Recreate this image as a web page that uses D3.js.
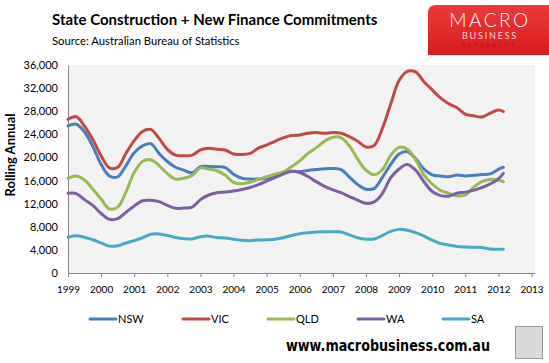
<!DOCTYPE html>
<html>
<head>
<meta charset="utf-8">
<script src="https://cdn.jsdelivr.net/npm/d3@7"></script>
<style>
  body { margin: 0; background: #fff; }
  svg { display: block; font-family: Lato, "Open Sans", sans-serif; }
</style>
</head>
<body>
<div id="chart"></div>
<script>
// quarterly points, decimal years (last point is early 2012)
var dates = [1999.0, 1999.25, 1999.5, 1999.75, 2000.0, 2000.25, 2000.5, 2000.75,
  2001.0, 2001.25, 2001.5, 2001.75, 2002.0, 2002.25, 2002.5, 2002.75,
  2003.0, 2003.25, 2003.5, 2003.75, 2004.0, 2004.25, 2004.5, 2004.75,
  2005.0, 2005.25, 2005.5, 2005.75, 2006.0, 2006.25, 2006.5, 2006.75,
  2007.0, 2007.25, 2007.5, 2007.75, 2008.0, 2008.25, 2008.5, 2008.75,
  2009.0, 2009.25, 2009.5, 2009.75, 2010.0, 2010.25, 2010.5, 2010.75,
  2011.0, 2011.25, 2011.5, 2011.75, 2012.0, 2012.15];

var nsw = [25450, 25750, 24400, 21900, 18800, 16800, 16650, 18600,
  20800, 22000, 22400, 20700, 19300, 18300, 17800, 17350,
  18400, 18450, 18400, 18250, 17100, 16400, 16250, 16250,
  16400, 16700, 17300, 17550, 17550, 17750, 17900, 18050,
  18100, 17900, 16600, 15300, 14500, 14650, 16600, 18800,
  20600, 21000, 19800, 18000, 17000, 16800, 16650, 16950,
  16800, 16900, 17050, 17150, 17950, 18300];

var vic = [26600, 27050, 25400, 23100, 20300, 18200, 18300, 20700,
  22900, 24500, 24850, 23300, 21400, 20400, 20300, 20400,
  21300, 21600, 21400, 21300, 20600, 20500, 20700, 21600,
  22150, 22800, 23400, 23800, 23900, 24200, 24300, 24200,
  24300, 24200, 23600, 22800, 21800, 22100, 25100, 29300,
  33300, 34900, 34800, 33100, 31700, 30300, 29300, 28600,
  27500, 27200, 27000, 27650, 28200, 27950];

var qld = [16400, 16800, 16100, 14500, 12800, 11100, 11400, 14000,
  17400, 19300, 19600, 18600, 17200, 16250, 16400, 16900,
  18200, 18000, 17700, 16900, 15700, 15450, 15700, 16200,
  16650, 17100, 17500, 18400, 19400, 20700, 21700, 22800,
  23500, 23400, 22000, 19700, 17800, 17000, 17900, 20400,
  21750, 21400, 19600, 17000, 15400, 14300, 13800, 13350,
  13500, 14800, 15800, 16200, 16050, 15800];

var wa = [13800, 13750, 12700, 11700, 10300, 9300, 9400, 10500,
  11600, 12500, 12600, 12350, 11700, 11200, 11250, 11400,
  12700, 13500, 13900, 14000, 14200, 14450, 14800, 15300,
  15900, 16500, 17100, 17600, 17400, 16700, 15800, 15000,
  14400, 13900, 13200, 12600, 12060, 12300, 13800, 16500,
  18000, 18800, 17800, 15800, 14100, 13400, 13300, 13800,
  14000, 14300, 14800, 15400, 16300, 17250];

var sa = [6200, 6450, 6200, 5750, 5200, 4650, 4700, 5200,
  5600, 6100, 6700, 6750, 6500, 6150, 5950, 5900,
  6280, 6380, 6150, 6050, 5850, 5650, 5600, 5700,
  5750, 5850, 6100, 6500, 6800, 6950, 7100, 7150,
  7150, 7100, 6600, 6100, 5850, 5900, 6500, 7200,
  7550, 7400, 7000, 6400, 5700, 5100, 4850, 4600,
  4500, 4450, 4400, 4150, 4120, 4100];

var seriesNames = ["NSW", "VIC", "QLD", "WA", "SA"];
var seriesValues = [nsw, vic, qld, wa, sa];
var colors = ["#4a7ebb", "#be4b48", "#98b954", "#7d60a0", "#46aac5"];
var yearTicks = d3.range(1999, 2014);
var valueTicks = d3.range(0, 36001, 4000);

var width = 549, height = 363;

var svg = d3.select("#chart").append("svg")
  .attr("width", width)
  .attr("height", height);

var x = d3.scaleLinear().domain([1999, 2013]).range([68, 531.5]);
var y = d3.scaleLinear().domain([0, 36000]).range([273, 65]);

// plot background
svg.append("rect")
  .attr("x", 68).attr("y", 65)
  .attr("width", 535 - 68).attr("height", 273 - 65)
  .attr("fill", "#f2f2f2");

// y axis
var yAxis = svg.append("g")
  .attr("transform", "translate(68,0)")
  .call(d3.axisLeft(y).tickValues(valueTicks).tickSize(0).tickPadding(10)
    .tickFormat(d3.format(",")));
yAxis.select(".domain").attr("stroke", "#868686");
yAxis.selectAll("text").attr("font-size", 11).attr("fill", "#000")
  .attr("font-family", "Lato, sans-serif");

// x axis
var xAxis = svg.append("g")
  .attr("transform", "translate(0,273)")
  .call(d3.axisBottom(x).tickValues(yearTicks).tickSize(4).tickPadding(9)
    .tickFormat(d3.format("d")));
xAxis.select(".domain").attr("stroke", "#868686").attr("d", "M68,0.5H535");
xAxis.selectAll("line").attr("stroke", "#868686");
xAxis.selectAll("text").attr("font-size", 10).attr("fill", "#000")
  .attr("font-family", "Lato, sans-serif");

// lines
var line = d3.line()
  .x(function(d) { return x(d[0]); })
  .y(function(d) { return y(d[1]); })
  .curve(d3.curveCatmullRom.alpha(0.5));

seriesValues.forEach(function(vals, i) {
  svg.append("path")
    .datum(dates.map(function(t, j) { return [t, vals[j]]; }))
    .attr("fill", "none")
    .attr("stroke", colors[i])
    .attr("stroke-width", 3)
    .attr("stroke-linejoin", "round")
    .attr("stroke-linecap", "round")
    .attr("d", line);
});

// axis title
svg.append("text")
  .attr("transform", "translate(15,155) rotate(-90)")
  .attr("text-anchor", "middle")
  .attr("font-size", 13).attr("font-weight", "bold")
  .text("Rolling Annual");

// legend
var legendX = [90, 183, 268, 358, 443];
var legend = svg.append("g");
seriesNames.forEach(function(name, i) {
  legend.append("line")
    .attr("x1", legendX[i]).attr("x2", legendX[i] + 26)
    .attr("y1", 319).attr("y2", 319)
    .attr("stroke", colors[i]).attr("stroke-width", 3)
    .attr("stroke-linecap", "round");
  legend.append("text")
    .attr("x", legendX[i] + 28).attr("y", 323)
    .attr("font-size", 11)
    .text(name);
});

// titles
svg.append("text")
  .attr("x", 52).attr("y", 25)
  .attr("font-size", 15).attr("font-weight", "bold")
  .text("State Construction + New Finance Commitments");
svg.append("text")
  .attr("x", 52).attr("y", 45)
  .attr("font-size", 11.3)
  .text("Source: Australian Bureau of Statistics");

// logo
var grad = svg.append("defs").append("linearGradient")
  .attr("id", "red").attr("x1", 0).attr("x2", 0).attr("y1", 0).attr("y2", 1);
grad.append("stop").attr("offset", "0%").attr("stop-color", "#ee3a3a");
grad.append("stop").attr("offset", "100%").attr("stop-color", "#d51b1d");
svg.append("path")
  .attr("d", "M436,5H549V55H428V13Q428,5 436,5Z")
  .attr("fill", "url(#red)");
svg.append("text")
  .attr("x", 490).attr("y", 27).attr("text-anchor", "middle")
  .attr("font-size", 19).attr("font-weight", 300).attr("letter-spacing", 2.5)
  .attr("fill", "#fff").attr("font-family", "Lato, sans-serif")
  .text("MACRO");
svg.append("text")
  .attr("x", 490).attr("y", 39).attr("text-anchor", "middle")
  .attr("font-size", 9).attr("letter-spacing", 1.8)
  .attr("fill", "#fbd6d6")
  .text("BUSINESS");
svg.append("text")
  .attr("x", 490).attr("y", 47).attr("text-anchor", "middle")
  .attr("font-size", 5).attr("letter-spacing", 3)
  .attr("fill", "#b01010")
  .text("SUPERBLOG");

// footer
svg.append("text")
  .attr("x", 286).attr("y", 351)
  .attr("font-size", 15).attr("font-weight", "bold")
  .attr("font-family", "Verdana, 'DejaVu Sans', sans-serif")
  .attr("textLength", 204).attr("lengthAdjust", "spacingAndGlyphs")
  .text("www.macrobusiness.com.au");
svg.append("rect")
  .attr("x", 515.5).attr("y", 326.5).attr("width", 27).attr("height", 32)
  .attr("fill", "#d8d8d8").attr("stroke", "#999");
</script>
</body>
</html>
